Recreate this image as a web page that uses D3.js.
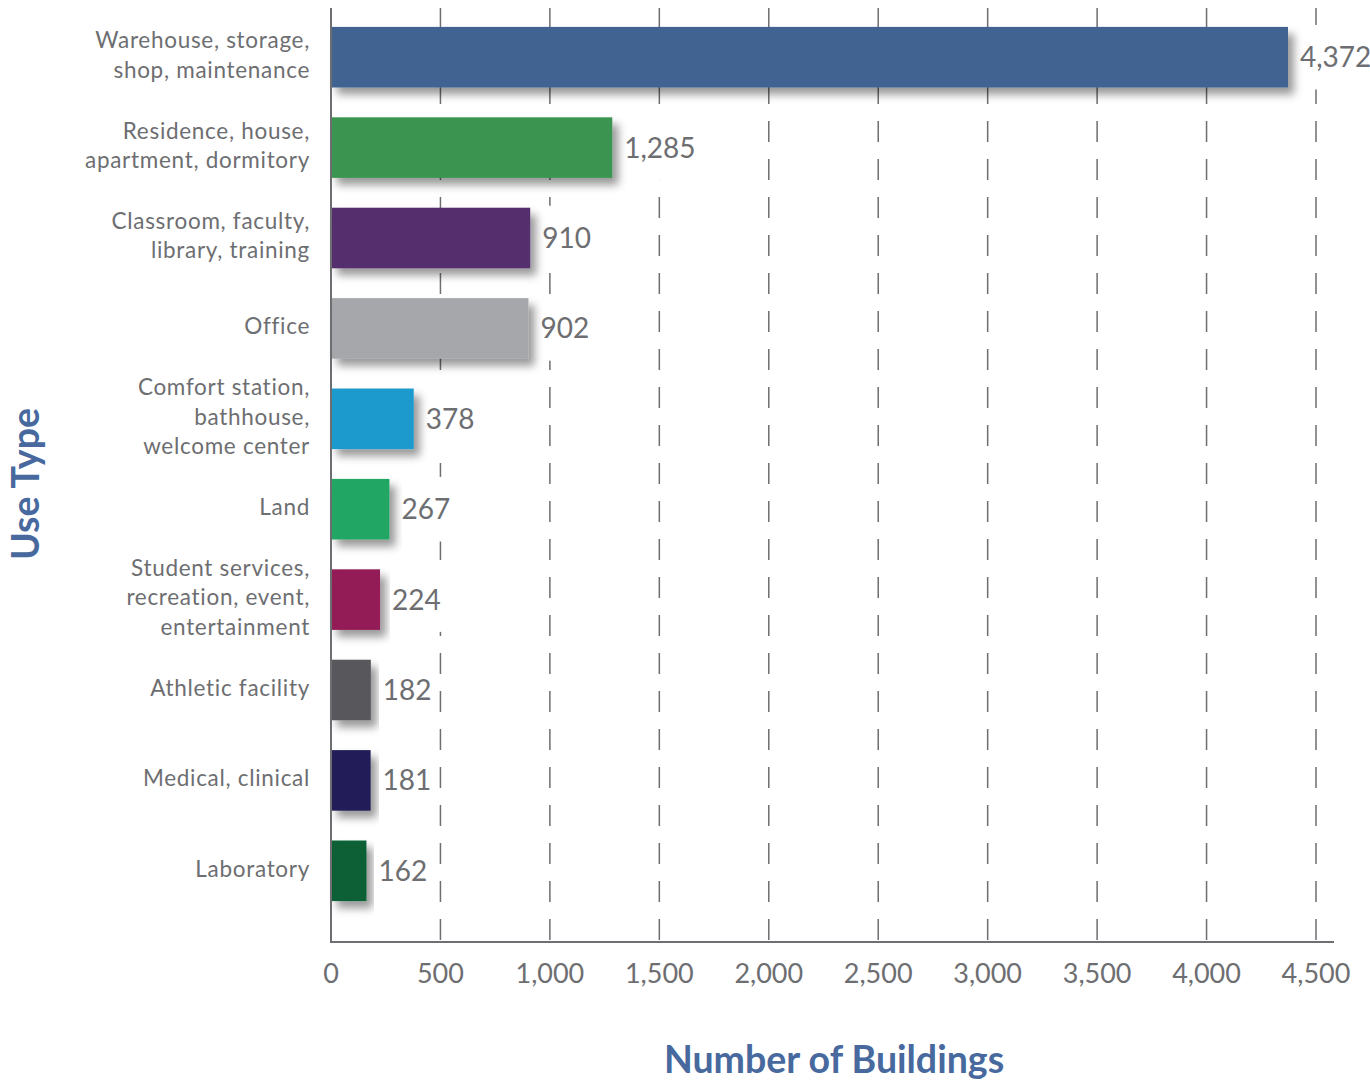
<!DOCTYPE html>
<html>
<head>
<meta charset="utf-8">
<script src="https://cdn.jsdelivr.net/npm/d3@7"></script>
<style>
  body { margin: 0; background: #fff; }
  svg { display: block; font-family: Lato, "Open Sans", sans-serif; }
  .cat-label { fill: #6d6e71; font-size: 22.5px; letter-spacing: 0.7px; }
  .value-label { fill: #6d6e71; font-size: 28px; }
  .tick-label { fill: #6d6e71; font-size: 27px; }
  .axis-title { fill: #47699e; font-size: 37.5px; font-weight: 700; }
  .grid line { stroke: #6d6e71; stroke-width: 1.5; stroke-dasharray: 21 17; }
  .axis-line { stroke: #6d6e71; stroke-width: 2; }
</style>
</head>
<body>
<svg id="chart" width="1370" height="1083"></svg>
<script>
"use strict";

const categories = [
  ["Warehouse, storage,", "shop, maintenance"],
  ["Residence, house,", "apartment, dormitory"],
  ["Classroom, faculty,", "library, training"],
  ["Office"],
  ["Comfort station,", "bathhouse,", "welcome center"],
  ["Land"],
  ["Student services,", "recreation, event,", "entertainment"],
  ["Athletic facility"],
  ["Medical, clinical"],
  ["Laboratory"],
];

const values = [4372, 1285, 910, 902, 378, 267, 224, 182, 181, 162];

const colors = [
  "#3f6391", "#3a9551", "#552f6e", "#a6a7ab", "#1f9acd",
  "#22a664", "#931a56", "#58595b", "#211c58", "#086134",
];

const xTicks = [0, 500, 1000, 1500, 2000, 2500, 3000, 3500, 4000, 4500];

const xAxisTitle = "Number of Buildings";
const yAxisTitle = "Use Type";

const margins = {top: 8, bottom: 942};

const svg = d3.select("#chart");

const xScale = d3.scaleLinear()
                 .domain([0, 4500])
                 .range([331, 1316]);

const yScale = d3.scaleBand()
                 .domain(d3.range(values.length))
                 .range([12, 916])
                 .paddingInner(0.33)
                 .paddingOuter(0.165);

const fmt = d3.format(",");

// drop shadow for the bars
const defs = svg.append("defs");
defs.append("filter")
    .attr("id", "shadow")
    .attr("x", "-10%").attr("y", "-20%")
    .attr("width", "130%").attr("height", "160%")
  .append("feDropShadow")
    .attr("dx", 6)
    .attr("dy", 7)
    .attr("stdDeviation", 4)
    .attr("flood-color", "#000")
    .attr("flood-opacity", 0.4);

// dashed grid, dashes start at the x axis
svg.append("g")
    .attr("class", "grid")
    .selectAll("line")
    .data(xTicks.slice(1))
    .join("line")
    .attr("x1", d => xScale(d))
    .attr("x2", d => xScale(d))
    .attr("y1", margins.bottom - 2)
    .attr("y2", margins.top);

const rows = svg.append("g")
                .selectAll("g")
                .data(values)
                .join("g");

const labelGap = 12;

// value labels, with a white box behind that hides the grid
const labels = rows.append("text")
    .attr("class", "value-label")
    .attr("x", d => xScale(d) + labelGap)
    .attr("y", (d, i) => yScale(i) + yScale.bandwidth() / 2 + 3)
    .attr("dominant-baseline", "middle")
    .text(d => fmt(d));

labels.each(function(d, i) {
  const bbox = this.getBBox();
  d3.select(this.parentNode)
    .insert("rect", "text")
    .attr("x", xScale(d) + 2)
    .attr("y", yScale(i) - 2)
    .attr("width", bbox.x + bbox.width - xScale(d) + 2)
    .attr("height", yScale.bandwidth() + 4)
    .attr("fill", "#fff");
});

rows.insert("rect", "text")
    .attr("x", xScale(0))
    .attr("y", (d, i) => yScale(i))
    .attr("width", d => xScale(d) - xScale(0))
    .attr("height", yScale.bandwidth())
    .attr("fill", (d, i) => colors[i])
    .attr("filter", "url(#shadow)");

// category labels
const lineHeight = 29.5;
svg.append("g")
    .selectAll("text")
    .data(categories)
    .join("text")
    .attr("class", "cat-label")
    .attr("text-anchor", "end")
    .attr("transform", (d, i) => {
      const cy = yScale(i) + yScale.bandwidth() / 2;
      return `translate(310, ${cy - (d.length - 1) * lineHeight / 2})`;
    })
    .selectAll("tspan")
    .data(d => d)
    .join("tspan")
    .attr("x", 0)
    .attr("y", (d, j) => j * lineHeight)
    .attr("dominant-baseline", "middle")
    .text(d => d);

// axes
svg.append("line")
    .attr("class", "axis-line")
    .attr("x1", xScale(0)).attr("x2", xScale(0))
    .attr("y1", margins.top).attr("y2", margins.bottom);

svg.append("line")
    .attr("class", "axis-line")
    .attr("x1", xScale(0) - 1).attr("x2", 1334)
    .attr("y1", margins.bottom).attr("y2", margins.bottom);

svg.append("g")
    .selectAll("text")
    .data(xTicks)
    .join("text")
    .attr("class", "tick-label")
    .attr("text-anchor", "middle")
    .attr("x", d => xScale(d))
    .attr("y", 976)
    .attr("dominant-baseline", "middle")
    .text(d => fmt(d));

svg.append("text")
    .attr("class", "axis-title")
    .attr("text-anchor", "middle")
    .attr("x", 834)
    .attr("y", 1063)
    .attr("dominant-baseline", "middle")
    .text(xAxisTitle);

svg.append("text")
    .attr("class", "axis-title")
    .attr("text-anchor", "middle")
    .attr("transform", "translate(29, 484) rotate(-90)")
    .attr("dominant-baseline", "middle")
    .text(yAxisTitle);
</script>
</body>
</html>
